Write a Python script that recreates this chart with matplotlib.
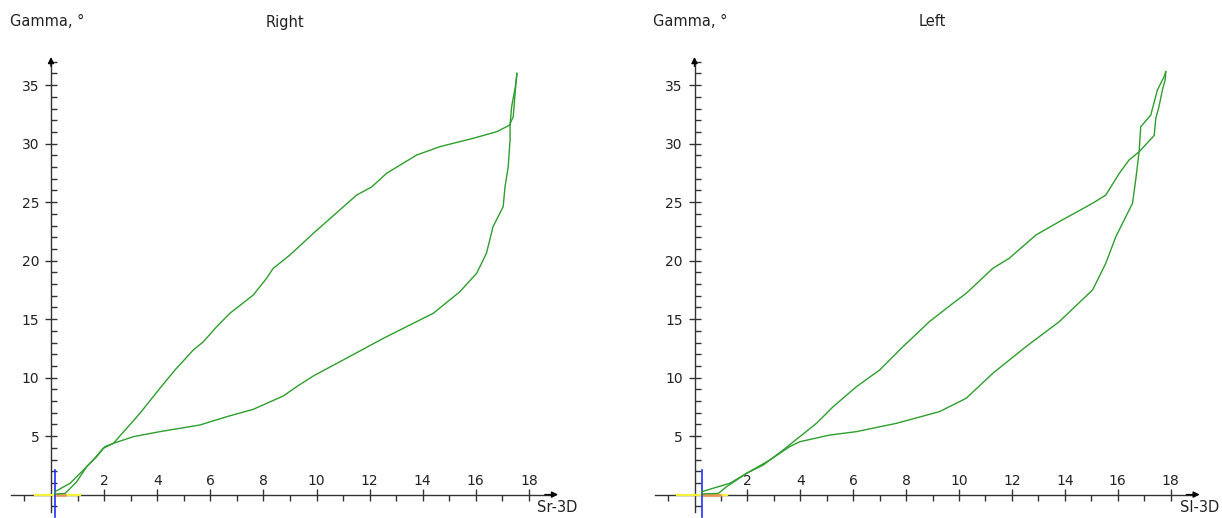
import numpy as np
import matplotlib
matplotlib.use("Agg")
import matplotlib.pyplot as plt
from matplotlib.ticker import MultipleLocator

# --- data ---
# "Right" panel (Sr-3D)
sr_up_x = [0.15, 0.72, 1.22, 1.59, 1.97, 2.35, 3.35, 4.1, 4.67, 5.36, 5.74, 6.24, 6.74, 7.62, 8.12,
           8.37, 9.0, 9.88, 10.38, 11.51, 12.08, 12.64, 13.15, 13.78, 14.65, 15.9, 16.79, 17.29,
           17.35, 17.49, 17.55]
sr_up_y = [0.25, 0.97, 2.1, 2.96, 3.96, 4.38, 6.95, 9.08, 10.65, 12.36, 13.07, 14.35, 15.5, 17.06,
           18.49, 19.34, 20.48, 22.33, 23.33, 25.6, 26.3, 27.46, 28.17, 29.03, 29.74, 30.45, 31.02,
           31.6, 33.15, 34.86, 36.0]
sr_lo_x = [0.15, 0.53, 0.97, 1.34, 1.72, 2.03, 2.35, 3.1, 4.1, 5.61, 6.62, 7.62, 8.75, 9.25, 9.88,
           11.0, 12.52, 13.52, 14.4, 15.4, 16.03, 16.4, 16.65, 17.03, 17.1, 17.22, 17.29, 17.29,
           17.41, 17.49, 17.55]
sr_lo_y = [0.05, 0.1, 1.1, 2.38, 3.24, 4.1, 4.38, 4.95, 5.38, 5.95, 6.66, 7.29, 8.43, 9.22, 10.14,
           11.5, 13.36, 14.5, 15.5, 17.34, 18.91, 20.62, 22.9, 24.6, 26.3, 28.0, 30.3, 31.7, 32.3,
           34.6, 36.0]

# "Left" panel (Sl-3D)
sl_up_x = [0.27, 1.34, 1.97, 2.6, 3.35, 3.98, 4.61, 5.24, 6.12, 7.0, 7.88, 8.88, 9.77, 10.27, 11.28,
           11.9, 12.91, 13.79, 15.05, 15.55, 16.06, 16.43, 16.81, 17.38, 17.44, 17.56, 17.69, 17.79,
           17.82]
sl_up_y = [0.25, 0.97, 1.82, 2.53, 3.81, 4.95, 6.09, 7.51, 9.22, 10.65, 12.64, 14.78, 16.35, 17.2,
           19.34, 20.2, 22.19, 23.33, 24.9, 25.6, 27.46, 28.6, 29.3, 30.7, 32.16, 33.15, 34.58, 35.4,
           36.15]
sl_lo_x = [0.27, 0.9, 1.21, 1.97, 2.85, 3.6, 3.98, 5.11, 6.12, 7.63, 9.26, 10.27, 11.28, 12.53, 13.79,
           15.05, 15.55, 15.93, 16.56, 16.68, 16.81, 16.87, 17.25, 17.5, 17.75, 17.82]
sl_lo_y = [0.05, 0.1, 0.67, 1.82, 2.96, 4.1, 4.52, 5.09, 5.38, 6.09, 7.09, 8.23, 10.37, 12.64, 14.78,
           17.49, 19.77, 22.04, 24.9, 26.9, 29.3, 31.44, 32.44, 34.58, 35.7, 36.15]

# small cursor marks near the origin: [yellow start, yellow end, orange start, orange end, blue x]
sr_marks = [-0.6, 1.1, 0.23, 0.53, 0.15]
sl_marks = [-0.67, 1.23, 0.32, 0.96, 0.28]

titles = ["Right", "Left"]
xlabels = ["Sr-3D", "Sl-3D"]

W, H = 1222, 518
fig = plt.figure(figsize=(W / 100, H / 100), dpi=100)

axis_col = "#333333"
green = "#2e9e2e"
ylim = (-2.0, 38.5)
py0, ppy = 494.6, 11.7  # pixel of y=0, pixels per unit


def make_panel(px0, ppx, xlim, ux, uy, lx, ly, marks):
    left = px0 + xlim[0] * ppx
    width = (xlim[1] - xlim[0]) * ppx
    bottom_px = py0 - ylim[0] * ppy
    height = (ylim[1] - ylim[0]) * ppy
    ax = fig.add_axes([left / W, 1 - bottom_px / H, width / W, height / H])
    ax.set_xlim(xlim)
    ax.set_ylim(ylim)
    ax.patch.set_alpha(0)

    for s in ["right", "bottom"]:
        ax.spines[s].set_visible(False)
    ax.spines["left"].set_position(("data", 0))
    ax.spines["top"].set_position(("data", 0))
    ax.spines["left"].set_bounds(-1.5, 37.0)
    ax.spines["top"].set_bounds(-1.5, 18.8)
    for s in ["left", "top"]:
        ax.spines[s].set_color(axis_col)
        ax.spines[s].set_linewidth(1.0)

    ax.xaxis.set_ticks_position("top")
    ax.yaxis.set_ticks_position("left")
    ax.set_xticks([t for t in range(2, 19, 2)])
    ax.set_xticks([t for t in range(-1, 19, 2)], minor=True)
    ax.set_yticks([t for t in range(5, 36, 5)])
    ax.set_yticks([t for t in range(-1, 38) if t % 5 != 0], minor=True)
    ax.tick_params(which="major", direction="inout", length=9, width=1, color=axis_col,
                   labelsize=10, labelcolor="#222222")
    ax.tick_params(which="minor", direction="in", length=4, width=1, color=axis_col)
    ax.tick_params(axis="x", which="major", pad=0)
    ax.tick_params(axis="y", which="major", pad=4)

    # arrow heads
    ax.annotate("", xy=(19.1, 0), xytext=(18.6, 0),
                arrowprops=dict(arrowstyle="-|>", color="black", lw=1, mutation_scale=9,
                                shrinkA=0, shrinkB=0))
    ax.annotate("", xy=(0, 37.4), xytext=(0, 36.6),
                arrowprops=dict(arrowstyle="-|>", color="black", lw=1, mutation_scale=9,
                                shrinkA=0, shrinkB=0))

    # cursor marks
    ax.plot([marks[0], marks[1]], [0, 0], color="#f5f03c", lw=1.6, zorder=3)
    ax.plot([marks[2], marks[3]], [0, 0], color="#f0905a", lw=1.8, zorder=3.5)
    ax.plot([marks[4], marks[4]], [-1.9, 2.1], color="#2030ff", lw=1.2, zorder=4)

    ax.plot(ux, uy, color=green, lw=1.0, zorder=5)
    ax.plot(lx, ly, color=green, lw=1.0, zorder=5)
    return ax


make_panel(51.0, 26.55, (-1.9, 20.4), sr_up_x, sr_up_y, sr_lo_x, sr_lo_y, sr_marks)
make_panel(694.5, 26.45, (-1.9, 19.9), sl_up_x, sl_up_y, sl_lo_x, sl_lo_y, sl_marks)

txt = dict(fontsize=10.5, color="#222222", va="center")
fig.text(10 / W, 1 - 22 / H, "Gamma, °", ha="left", **txt)
fig.text(285 / W, 1 - 22 / H, titles[0], ha="center", **txt)
fig.text(537 / W, 1 - 508 / H, xlabels[0], ha="left", **txt)
fig.text(653 / W, 1 - 22 / H, "Gamma, °", ha="left", **txt)
fig.text(932 / W, 1 - 22 / H, titles[1], ha="center", **txt)
fig.text(1180 / W, 1 - 508 / H, xlabels[1], ha="left", **txt)

fig.savefig("out.png", dpi=100, facecolor="white")
